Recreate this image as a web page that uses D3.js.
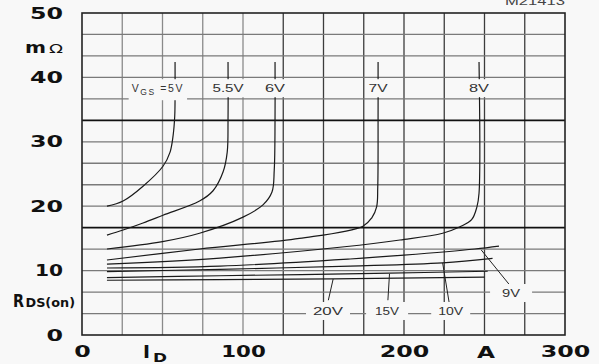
<!DOCTYPE html>
<html><head><meta charset="utf-8">
<script src="https://cdn.jsdelivr.net/npm/d3@7"></script>
<style>body{margin:0;background:#f8f8f8}svg{display:block}</style>
</head><body><svg id="c" width="599" height="364"></svg>
<script>
// ---- data (ID in A, RDS(on) in mOhm) ----
const xTicks = [0, 100, 200, 300];
const yTicks = [0, 10, 20, 30, 40, 50];

const id5V  = [15.5, 25.5, 37.9, 50.3, 54.7, 56.6, 57.6, 57.8, 57.8];
const r5V   = [20.0, 20.8, 23.1, 26.2, 28.4, 31.0, 34.0, 37.0, 42.4];
const id55V = [15.5, 25.5, 37.9, 50.3, 73.0, 81.4, 87.6, 90.2, 90.7, 90.7];
const r55V  = [15.5, 16.3, 17.4, 18.6, 20.8, 22.4, 25.3, 28.4, 33.4, 42.4];
const id6V  = [15.5, 50.0, 73.0, 100.0, 112.4, 118.0, 119.4, 119.9, 119.9];
const r6V   = [13.35, 14.5, 15.8, 18.3, 20.2, 22.2, 25.6, 33.4, 42.4];
const id7V  = [15.5, 73.0, 135.0, 174.5, 180.0, 183.0, 183.7, 183.9, 183.9];
const r7V   = [11.65, 13.35, 15.0, 16.9, 18.2, 19.9, 23.0, 33.4, 42.4];
const id8V  = [15.5, 85.7, 163.0, 197.5, 224.0, 234.8, 242.0, 245.3, 246.6, 246.6];
const r8V   = [11.0, 11.95, 13.7, 14.75, 15.8, 16.8, 17.9, 19.9, 22.0, 42.4];
const id9V  = [15.5, 85.7, 166.5, 200.0, 244.0, 259.0];
const r9V   = [10.4, 10.7, 11.8, 12.4, 13.35, 13.8];
const id10V = [15.5, 85.7, 166.5, 224.0, 255.0];
const r10V  = [9.85, 10.2, 10.7, 11.2, 11.9];
const id15V = [15.5, 85.7, 191.0, 252.0];
const r15V  = [8.9, 9.2, 9.6, 9.9];
const id20V = [15.5, 85.7, 156.0, 250.0];
const r20V  = [8.5, 8.6, 8.7, 9.0];

const topLabels = ["5.5V", "6V", "7V", "8V"];
const topLabelId = [90.7, 119.9, 183.9, 246.6];
const bottomLabels = ["20V", "15V", "10V", "9V"];
const bottomLabelId = [152.8, 189.5, 229.0, 266.5];
const bottomLabelR = [3.73, 3.73, 3.73, 6.52];
const leaderFromId = [156, 191, 224, 248];
const leaderFromR  = [8.7, 9.5, 11.2, 13.2];
const leaderToId   = [153, 190, 228, 265.5];
const leaderToR    = [5.4, 5.4, 5.1, 7.8];

// ---- drawing ----
const svg = d3.select('#c');
const x = d3.scaleLinear().domain([0, 300]).range([82, 565]);
const y = d3.scaleLinear().domain([0, 50]).range([335, 13]);
const bg = '#f8f8f8';

svg.append('rect').attr('width', 599).attr('height', 364).attr('fill', bg);

// grid
const gx = d3.range(25, 300, 25);
svg.append('g').selectAll('line').data(gx).join('line')
  .attr('x1', d => x(d)).attr('x2', d => x(d)).attr('y1', y(0)).attr('y2', y(50))
  .attr('stroke', d => d <= 100 ? '#8a8a8a' : '#3c3c3c').attr('stroke-width', 1.3);
const gy = d3.range(1, 15).map(i => i * 50 / 15);
svg.append('g').selectAll('line').data(gy).join('line')
  .attr('x1', x(0)).attr('x2', x(300)).attr('y1', d => y(d)).attr('y2', d => y(d))
  .attr('stroke', (d, i) => (i === 4 || i === 9) ? '#111' : '#7a7a7a')
  .attr('stroke-width', (d, i) => (i === 4 || i === 9) ? 1.6 : 1.3);

svg.append('rect').attr('x', x(0)).attr('y', y(50)).attr('width', x(300) - x(0)).attr('height', y(0) - y(50))
  .attr('fill', 'none').attr('stroke', '#222').attr('stroke-width', 1.6);

// curves
const series = [[id5V, r5V], [id55V, r55V], [id6V, r6V], [id7V, r7V], [id8V, r8V],
                [id9V, r9V], [id10V, r10V], [id15V, r15V], [id20V, r20V]];
const line = d3.line().x(d => x(d[0])).y(d => y(d[1])).curve(d3.curveCatmullRom.alpha(0.5));
svg.append('g').selectAll('path').data(series.map(s => s[0].map((v, i) => [v, s[1][i]]))).join('path')
  .attr('d', line).attr('fill', 'none').attr('stroke', '#1a1a1a').attr('stroke-width', 1.2);

// leader lines
svg.append('g').selectAll('line').data(bottomLabels).join('line')
  .attr('x1', (d, i) => x(leaderFromId[i])).attr('y1', (d, i) => y(leaderFromR[i]))
  .attr('x2', (d, i) => x(leaderToId[i])).attr('y2', (d, i) => y(leaderToR[i]))
  .attr('stroke', '#222').attr('stroke-width', 1);

// labels with background boxes
const lab = svg.append('g').attr('font-family', 'Liberation Sans, Arial, sans-serif').attr('fill', '#333');
function boxed(g, padX, padY) {
  const b = g.select('text').node().getBBox();
  g.insert('rect', 'text').attr('x', b.x - padX).attr('y', b.y - padY)
    .attr('width', b.width + 2 * padX).attr('height', b.height + 2 * padY).attr('fill', bg);
}
const topW = [31, 20, 19, 20];
topLabels.forEach((t, i) => {
  const g = lab.append('g');
  g.append('text').attr('x', x(topLabelId[i])).attr('y', y(37.7)).attr('text-anchor', 'middle')
    .attr('font-size', 10.5).attr('textLength', topW[i]).attr('lengthAdjust', 'spacingAndGlyphs').text(t);
  boxed(g, 3, 3);
});
{
  const g = lab.append('g');
  const t = g.append('text').attr('x', x(57.8) + 9).attr('y', y(37.7)).attr('text-anchor', 'end')
    .attr('font-size', 10.5).attr('letter-spacing', 1.6);
  t.append('tspan').text('V');
  t.append('tspan').attr('font-size', 8.5).attr('dy', 3).text('GS');
  t.append('tspan').attr('dy', -3).text(' =5V');
  boxed(g, 3, 3);
}
const botW = [30, 24, 25, 18];
const botPad = [7, 9, 7, 12];
bottomLabels.forEach((t, i) => {
  const g = lab.append('g');
  g.append('text').attr('x', x(bottomLabelId[i])).attr('y', y(bottomLabelR[i]) + 4).attr('text-anchor', 'middle')
    .attr('font-size', 10.5).attr('textLength', botW[i]).attr('lengthAdjust', 'spacingAndGlyphs').text(t);
  boxed(g, botPad[i], 3);
});

// axes
const bold = 'DejaVu Sans, Verdana, sans-serif';
const widthOf = s => s.length * 16.5 - (s.split('1').length - 1) * 5;
const ya = svg.append('g').attr('transform', `translate(${x(0)},0)`)
  .call(d3.axisLeft(y).tickValues(yTicks).tickSize(0).tickPadding(19).tickFormat(d => String(d)));
ya.select('.domain').remove();
ya.selectAll('text').attr('font-family', bold).attr('font-weight', 'bold').attr('font-size', 16).attr('fill', '#111')
  .attr('textLength', function () { return widthOf(this.textContent); }).attr('lengthAdjust', 'spacingAndGlyphs');
const xa = svg.append('g').attr('transform', `translate(0,${y(0)})`)
  .call(d3.axisBottom(x).tickValues(xTicks).tickSize(0).tickPadding(11).tickFormat(d => String(d)));
xa.select('.domain').remove();
xa.selectAll('text').attr('font-family', bold).attr('font-weight', 'bold').attr('font-size', 16).attr('fill', '#111')
  .attr('textLength', function () { return widthOf(this.textContent); }).attr('lengthAdjust', 'spacingAndGlyphs');

// axis titles
const tt = svg.append('g').attr('font-family', bold).attr('font-weight', 'bold').attr('fill', '#111');
tt.append('text').attr('x', 25).attr('y', 53).attr('font-size', 16).attr('textLength', 21)
  .attr('lengthAdjust', 'spacingAndGlyphs').text('m');
tt.append('text').attr('x', 49).attr('y', 53).attr('font-size', 12).attr('font-weight', 'normal').attr('textLength', 14)
  .attr('lengthAdjust', 'spacingAndGlyphs').text('Ω');
tt.append('text').attr('x', 13).attr('y', 307).attr('font-size', 17).attr('textLength', 11)
  .attr('lengthAdjust', 'spacingAndGlyphs').text('R');
tt.append('text').attr('x', 25.5).attr('y', 307).attr('font-size', 12).attr('textLength', 49.5)
  .attr('lengthAdjust', 'spacingAndGlyphs').text('DS(on)');
tt.append('text').attr('x', 143).attr('y', 358).attr('font-size', 17).attr('textLength', 7)
  .attr('lengthAdjust', 'spacingAndGlyphs').text('I');
tt.append('text').attr('x', 153).attr('y', 362).attr('font-size', 12).attr('textLength', 14)
  .attr('lengthAdjust', 'spacingAndGlyphs').text('D');
tt.append('text').attr('x', 486).attr('y', 358).attr('font-size', 16).attr('text-anchor', 'middle')
  .attr('textLength', 18).attr('lengthAdjust', 'spacingAndGlyphs').text('A');

svg.append('text').attr('x', 565).attr('y', 5).attr('text-anchor', 'end').attr('font-family', 'Liberation Sans, Arial, sans-serif')
  .attr('font-size', 11).attr('fill', '#444').attr('textLength', 60).attr('lengthAdjust', 'spacingAndGlyphs').text('M21413');
</script></body></html>
